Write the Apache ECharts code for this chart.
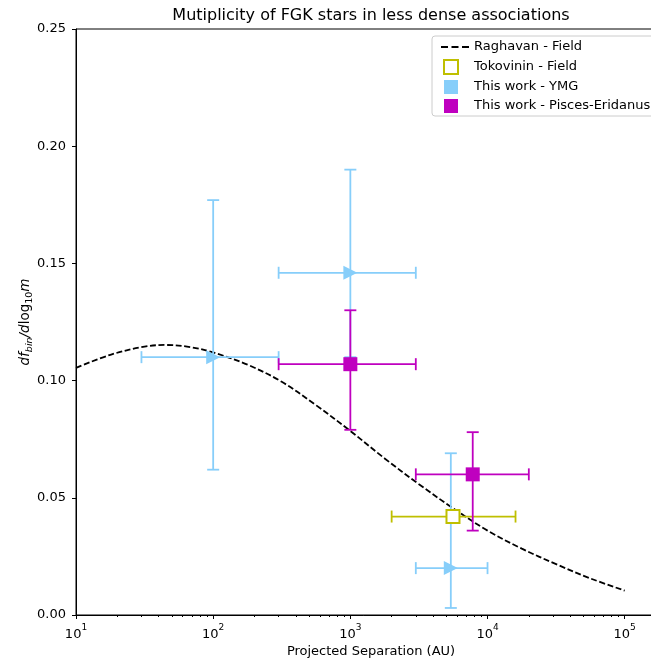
<!DOCTYPE html>
<html><head><meta charset="utf-8">
<script src="https://cdn.jsdelivr.net/npm/echarts@6/dist/echarts.min.js"></script>
<style>html,body{margin:0;padding:0;background:#fff}#c{width:651px;height:660px}</style>
</head><body><div id="c"></div>
<script>
// Raghavan field curve
const curveX = [10, 17.8, 31.6, 45, 68, 100, 178, 316, 562, 1000, 1778, 3162, 5623, 10000, 17783, 31623, 56234, 100000];
const curveY = [0.1054, 0.1110, 0.1145, 0.1152, 0.1143, 0.1120, 0.1068, 0.0995, 0.0895, 0.0785, 0.0668, 0.0558, 0.0455, 0.0360, 0.0283, 0.0217, 0.0156, 0.0104];
// This work - YMG
const ymgX = [100, 1000, 5400];
const ymgY = [0.110, 0.146, 0.020];
const ymgXLo = [30, 300, 3000];
const ymgXHi = [300, 3000, 10000];
const ymgYLo = [0.062, 0.110, 0.003];
const ymgYHi = [0.177, 0.190, 0.069];
// Tokovinin - Field
const tokX = [5600];
const tokY = [0.042];
const tokXLo = [2000];
const tokXHi = [16000];
// This work - Pisces-Eridanus
const peX = [1000, 7800];
const peY = [0.107, 0.060];
const peXLo = [300, 3000];
const peXHi = [3000, 20000];
const peYLo = [0.079, 0.036];
const peYHi = [0.130, 0.078];

const BLUE = '#87CEFA', MAG = '#BF00BF', YEL = '#BFBF00';
const FONT = 'DejaVu Sans';

function errRender(color) {
  return function (params, api) {
    const x = api.value(0), y = api.value(1), xl = api.value(2), xh = api.value(3), yl = api.value(4), yh = api.value(5);
    const style = { stroke: color, lineWidth: 1.8 };
    const pl = api.coord([xl, y]), ph = api.coord([xh, y]);
    const ch = [];
    const cap = 6;
    ch.push({ type: 'line', shape: { x1: pl[0], y1: pl[1], x2: ph[0], y2: ph[1] }, style });
    ch.push({ type: 'line', shape: { x1: pl[0], y1: pl[1] - cap, x2: pl[0], y2: pl[1] + cap }, style });
    ch.push({ type: 'line', shape: { x1: ph[0], y1: ph[1] - cap, x2: ph[0], y2: ph[1] + cap }, style });
    if (yl !== yh) {
      const ql = api.coord([x, yl]), qh = api.coord([x, yh]);
      ch.push({ type: 'line', shape: { x1: ql[0], y1: ql[1], x2: qh[0], y2: qh[1] }, style });
      ch.push({ type: 'line', shape: { x1: ql[0] - cap, y1: ql[1], x2: ql[0] + cap, y2: ql[1] }, style });
      ch.push({ type: 'line', shape: { x1: qh[0] - cap, y1: qh[1], x2: qh[0] + cap, y2: qh[1] }, style });
    }
    return { type: 'group', children: ch };
  };
}

const ymgData = ymgX.map((x, i) => [x, ymgY[i], ymgXLo[i], ymgXHi[i], ymgYLo[i], ymgYHi[i]]);
const tokData = tokX.map((x, i) => [x, tokY[i], tokXLo[i], tokXHi[i], tokY[i], tokY[i]]);
const peData = peX.map((x, i) => [x, peY[i], peXLo[i], peXHi[i], peYLo[i], peYHi[i]]);

const SQ = 'path://M0,0M28,14M3,0h14v14h-14z';
const DASH = 'path://M0,0M28,14M0,6h7v2h-7zM10.5,6h7v2h-7zM21,6h7v2h-7z';

const chart = echarts.init(document.getElementById('c'), null, { renderer: 'canvas' });
chart.setOption({
  animation: false,
  textStyle: { fontFamily: FONT },
  grid: { left: 76, top: 29, width: 590, height: 586, show: true, borderColor: '#000', borderWidth: 1, backgroundColor: 'transparent', outerBoundsMode: 'none', containLabel: false },
  graphic: [{
    type: 'text', x: 371, y: 16,
    style: { text: 'Mutiplicity of FGK stars in less dense associations', fontFamily: FONT, fontSize: 16, fill: '#000', textAlign: 'center', textVerticalAlign: 'middle' }
  }],
  legend: {
    orient: 'vertical', left: 432, top: 36,
    padding: [4, 8, 3, 8], itemGap: 5, itemWidth: 28, itemHeight: 14,
    borderColor: '#ccc', borderWidth: 1, borderRadius: 3, backgroundColor: '#fff',
    textStyle: { fontFamily: FONT, fontSize: 13, color: '#000' },
    data: [
      { name: 'Raghavan - Field', icon: DASH, itemStyle: { color: '#000', borderWidth: 0 } },
      { name: 'Tokovinin - Field', icon: SQ, itemStyle: { color: '#fff', borderColor: YEL, borderWidth: 2 } },
      { name: 'This work - YMG', icon: SQ, itemStyle: { color: BLUE } },
      { name: 'This work - Pisces-Eridanus', icon: SQ, itemStyle: { color: MAG } }
    ]
  },
  xAxis: {
    type: 'log', logBase: 10, min: 10, max: 200000,
    name: 'Projected Separation (AU)', nameLocation: 'middle', nameGap: 30, nameMoveOverlap: false,
    nameTextStyle: { fontFamily: FONT, fontSize: 13, color: '#000' },
    axisLine: { lineStyle: { color: '#000', width: 1 } },
    axisTick: { show: true, inside: false, length: 4, lineStyle: { color: '#000' } },
    minorTick: { show: true, splitNumber: 9, length: 2, lineStyle: { color: '#000' } },
    splitLine: { show: false },
    axisLabel: {
      margin: 8, color: '#000', fontFamily: FONT, fontSize: 13, showMaxLabel: false,
      formatter: function (v) { const e = Math.round(Math.log10(v)); return '{b|10}{s|' + e + '}'; },
      rich: { b: { fontSize: 13, fontFamily: FONT, color: '#000', lineHeight: 18, verticalAlign: 'bottom' }, s: { fontSize: 9, fontFamily: FONT, color: '#000', lineHeight: 18, verticalAlign: 'top' } }
    }
  },
  yAxis: {
    type: 'value', min: 0, max: 0.25, interval: 0.05,
    name: '{i|df}{is|bin}{i|/d}{n|log}{s|10}{i|m}', nameLocation: 'middle', nameGap: 41, nameRotate: 90, nameMoveOverlap: false,
    nameTextStyle: {
      rich: {
        i: { fontFamily: FONT, fontSize: 13.5, fontStyle: 'italic', color: '#000', lineHeight: 20, verticalAlign: 'middle' },
        n: { fontFamily: FONT, fontSize: 13.5, color: '#000', lineHeight: 20, verticalAlign: 'middle' },
        is: { fontFamily: FONT, fontSize: 9.5, fontStyle: 'italic', color: '#000', lineHeight: 14, verticalAlign: 'bottom' },
        s: { fontFamily: FONT, fontSize: 9.5, color: '#000', lineHeight: 14, verticalAlign: 'bottom' }
      }
    },
    axisLine: { show: true, lineStyle: { color: '#000', width: 1 } },
    axisTick: { show: true, inside: false, length: 4, lineStyle: { color: '#000' } },
    splitLine: { show: false },
    axisLabel: { margin: 10, color: '#000', fontFamily: FONT, fontSize: 13, formatter: v => v.toFixed(2) }
  },
  series: [
    {
      name: 'Raghavan - Field', type: 'line', smooth: 0.35, symbol: 'none', z: 1,
      data: curveX.map((x, i) => [x, curveY[i]]),
      lineStyle: { color: '#000', width: 1.8, type: [6, 2.6] }, itemStyle: { color: '#000' }
    },
    { name: 'ymgErr', type: 'custom', renderItem: errRender(BLUE), data: ymgData, z: 2, encode: { x: 0, y: 1 } },
    { name: 'This work - YMG', type: 'scatter', data: ymgData.map(d => [d[0], d[1]]), symbol: 'triangle', symbolRotate: -90, symbolSize: 14, itemStyle: { color: BLUE, opacity: 1 }, z: 3 },
    { name: 'tokErr', type: 'custom', renderItem: errRender(YEL), data: tokData, z: 4, encode: { x: 0, y: 1 } },
    { name: 'Tokovinin - Field', type: 'scatter', data: tokData.map(d => [d[0], d[1]]), symbol: 'rect', symbolSize: 13, itemStyle: { color: '#fff', borderColor: YEL, borderWidth: 2, opacity: 1 }, z: 5 },
    { name: 'peErr', type: 'custom', renderItem: errRender(MAG), data: peData, z: 6, encode: { x: 0, y: 1 } },
    { name: 'This work - Pisces-Eridanus', type: 'scatter', data: peData.map(d => [d[0], d[1]]), symbol: 'rect', symbolSize: 14, itemStyle: { color: MAG, opacity: 1 }, z: 7 }
  ]
});
</script></body></html>
